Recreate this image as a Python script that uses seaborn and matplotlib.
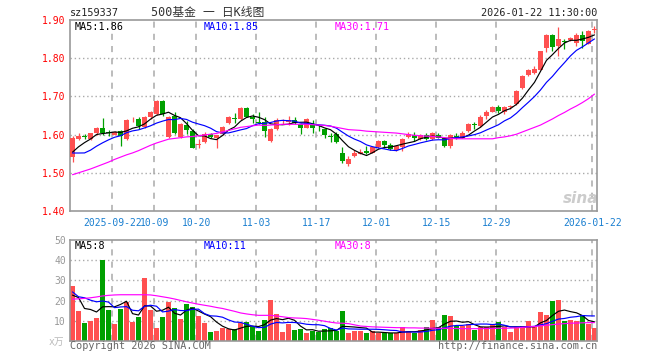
import numpy as np
import pandas as pd
import seaborn as sns
import matplotlib
matplotlib.use("Agg")
import matplotlib.pyplot as plt

sns.set_theme(style="white")
plt.rcParams['font.family'] = ['DejaVu Sans Mono', 'Noto Sans CJK SC']

# ---- data (sz159337 daily K) ----
opens = [1.542, 1.589, 1.596, 1.589, 1.603, 1.617, 1.608, 1.600, 1.610, 1.588,
         1.637, 1.640, 1.621, 1.645, 1.655, 1.689, 1.593, 1.649, 1.593, 1.625,
         1.610, 1.574, 1.580, 1.601, 1.591, 1.601, 1.630, 1.642, 1.640, 1.669,
         1.647, 1.632, 1.633, 1.583, 1.614, 1.635, 1.632, 1.638, 1.629, 1.618,
         1.627, 1.617, 1.615, 1.596, 1.601, 1.553, 1.524, 1.544, 1.550, 1.556,
         1.553, 1.568, 1.583, 1.572, 1.560, 1.568, 1.594, 1.598, 1.588, 1.598,
         1.588, 1.598, 1.590, 1.570, 1.594, 1.592, 1.610, 1.625, 1.623, 1.649,
         1.660, 1.672, 1.658, 1.673, 1.680, 1.722, 1.756, 1.761, 1.770, 1.826,
         1.860, 1.832, 1.844, 1.847, 1.840, 1.860, 1.838, 1.873]
closes = [1.590, 1.596, 1.594, 1.603, 1.618, 1.603, 1.604, 1.607, 1.596, 1.638,
          1.638, 1.623, 1.645, 1.658, 1.689, 1.654, 1.647, 1.603, 1.628, 1.612,
          1.566, 1.576, 1.601, 1.593, 1.598, 1.620, 1.647, 1.641, 1.669, 1.647,
          1.640, 1.630, 1.610, 1.614, 1.638, 1.637, 1.638, 1.630, 1.618, 1.640,
          1.616, 1.616, 1.598, 1.594, 1.581, 1.531, 1.537, 1.551, 1.555, 1.552,
          1.568, 1.583, 1.573, 1.561, 1.570, 1.588, 1.601, 1.590, 1.598, 1.588,
          1.604, 1.592, 1.570, 1.598, 1.593, 1.605, 1.627, 1.624, 1.647, 1.660,
          1.672, 1.662, 1.672, 1.675, 1.715, 1.754, 1.768, 1.772, 1.818, 1.860,
          1.829, 1.849, 1.843, 1.853, 1.860, 1.846, 1.871, 1.875]
highs = [1.596, 1.603, 1.601, 1.605, 1.620, 1.643, 1.612, 1.610, 1.613, 1.640,
         1.645, 1.645, 1.649, 1.661, 1.691, 1.690, 1.649, 1.658, 1.631, 1.635,
         1.614, 1.588, 1.606, 1.603, 1.600, 1.622, 1.650, 1.656, 1.672, 1.671,
         1.653, 1.658, 1.645, 1.618, 1.643, 1.642, 1.649, 1.647, 1.631, 1.644,
         1.639, 1.625, 1.618, 1.605, 1.607, 1.568, 1.544, 1.559, 1.563, 1.570,
         1.571, 1.587, 1.586, 1.577, 1.573, 1.590, 1.607, 1.607, 1.601, 1.603,
         1.607, 1.603, 1.591, 1.601, 1.604, 1.610, 1.630, 1.633, 1.651, 1.665,
         1.675, 1.677, 1.674, 1.677, 1.718, 1.756, 1.772, 1.779, 1.820, 1.864,
         1.864, 1.882, 1.851, 1.856, 1.867, 1.870, 1.873, 1.884]
lows = [1.528, 1.585, 1.588, 1.587, 1.600, 1.600, 1.596, 1.598, 1.570, 1.585,
        1.632, 1.615, 1.618, 1.642, 1.652, 1.650, 1.590, 1.601, 1.591, 1.601,
        1.565, 1.566, 1.578, 1.590, 1.566, 1.599, 1.628, 1.631, 1.638, 1.645,
        1.631, 1.627, 1.594, 1.581, 1.612, 1.627, 1.625, 1.628, 1.601, 1.616,
        1.604, 1.609, 1.592, 1.581, 1.578, 1.525, 1.518, 1.542, 1.548, 1.548,
        1.551, 1.566, 1.566, 1.559, 1.557, 1.557, 1.592, 1.583, 1.586, 1.586,
        1.586, 1.590, 1.568, 1.566, 1.588, 1.590, 1.608, 1.614, 1.621, 1.642,
        1.658, 1.656, 1.654, 1.667, 1.678, 1.720, 1.753, 1.759, 1.768, 1.816,
        1.820, 1.807, 1.823, 1.845, 1.833, 1.826, 1.836, 1.866]
# volume, 万手
volumes = [27.2, 14.7, 8.8, 9.8, 11.3, 40.0, 15.2, 8.3, 15.7, 19.2,
           9.3, 11.8, 31.1, 15.2, 6.3, 11.8, 19.2, 16.2, 10.8, 18.2,
           16.7, 12.3, 8.8, 4.3, 4.8, 6.5, 5.8, 5.8, 8.9, 9.3,
           7.0, 4.8, 10.3, 20.2, 13.2, 4.3, 8.3, 5.3, 5.8, 3.8,
           4.8, 4.5, 5.8, 6.3, 5.0, 14.7, 3.8, 4.8, 4.8, 3.8,
           4.8, 3.8, 3.8, 3.8, 3.8, 6.8, 4.8, 3.8, 5.3, 6.8,
           10.3, 6.8, 12.7, 12.3, 7.3, 7.3, 8.3, 5.3, 6.8, 6.8,
           7.8, 9.3, 6.8, 4.3, 6.8, 7.3, 9.8, 6.8, 14.2, 12.7,
           19.7, 20.2, 9.8, 10.3, 9.8, 12.7, 8.3, 6.3]

# closes / volumes just before the window (estimated from where the MA lines start)
pre_closes = [1.596, 1.592, 1.530, 1.515, 1.515, 1.526, 1.539, 1.556, 1.559]
pre_volumes = [38.7, 13.8, 21.8, 19.3, 35.9, 20.7, 35.8, 12.3, 17.5]

# MA30 lines
ma30_price = [1.495, 1.500, 1.505, 1.510, 1.516, 1.522, 1.528, 1.535, 1.541, 1.547,
              1.552, 1.558, 1.565, 1.572, 1.578, 1.583, 1.588, 1.590, 1.592, 1.594,
              1.595, 1.597, 1.599, 1.601, 1.603, 1.607, 1.611, 1.615, 1.619, 1.621,
              1.623, 1.625, 1.624, 1.625, 1.626, 1.627, 1.627, 1.627, 1.627, 1.627,
              1.626, 1.625, 1.624, 1.622, 1.619, 1.616, 1.613, 1.612, 1.611, 1.609,
              1.608, 1.607, 1.606, 1.605, 1.604, 1.602, 1.600, 1.598, 1.597, 1.596,
              1.595, 1.594, 1.592, 1.590, 1.589, 1.589, 1.589, 1.589, 1.589, 1.589,
              1.589, 1.592, 1.594, 1.597, 1.601, 1.607, 1.613, 1.619, 1.625, 1.633,
              1.641, 1.650, 1.658, 1.667, 1.675, 1.684, 1.694, 1.706]
ma30_volume = [20.7, 20.9, 21.1, 21.4, 21.8, 22.3, 22.6, 22.8, 22.9, 22.9,
               22.9, 22.9, 22.9, 22.8, 22.4, 21.9, 21.4, 20.8, 20.1, 19.4,
               18.8, 18.2, 17.7, 17.2, 16.6, 16.1, 15.4, 14.7, 13.9, 13.4,
               13.0, 12.7, 12.7, 12.7, 12.4, 12.0, 11.6, 11.4, 11.3, 11.1,
               10.7, 10.3, 9.8, 9.3, 8.9, 8.8, 8.6, 8.0, 7.4, 7.2,
               7.0, 6.9, 6.8, 6.7, 6.6, 6.6, 6.5, 6.5, 6.4, 6.4,
               6.3, 6.3, 6.3, 6.2, 6.2, 6.1, 6.1, 6.1, 6.1, 6.2,
               6.2, 6.3, 6.3, 6.4, 6.5, 6.7, 7.0, 7.2, 7.5, 7.8,
               8.1, 8.4, 8.6, 8.8, 8.9, 9.0, 9.1, 9.1]

tick_index = [7, 14, 21, 31, 41, 51, 61, 71, 87]
tick_labels = ['2025-09-22', '10-09', '10-20', '11-03', '11-17',
               '12-01', '12-15', '12-29', '2026-01-22']

price_ma_text = ['MA5:1.86', 'MA10:1.85', 'MA30:1.71']
volume_ma_text = ['MA5:8', 'MA10:11', 'MA30:8']

RED = '#ff5050'
GREEN = '#00a000'
GRID = '#aaaaaa'
FRAME = '#999999'
MA_COLORS = ['#000000', '#0000ff', '#ff00ff']

df = pd.DataFrame({'open': opens, 'close': closes, 'high': highs,
                   'low': lows, 'volume': volumes})
df['x'] = np.arange(len(df))
up = df['close'] >= df['open']
df['color'] = np.where(up, RED, GREEN)

c_all = pd.Series(pre_closes + closes)
v_all = pd.Series(pre_volumes + volumes)
k = len(pre_closes)
df['ma5'] = c_all.rolling(5).mean().to_numpy()[k:]
df['ma10'] = c_all.rolling(10).mean().to_numpy()[k:]
df['ma30'] = ma30_price
df['vma5'] = v_all.rolling(5).mean().to_numpy()[k:]
df['vma10'] = v_all.rolling(10).mean().to_numpy()[k:]
df['vma30'] = ma30_volume

W, H = 660, 360
fig = plt.figure(figsize=(W / 100, H / 100), dpi=100)
fig.patch.set_facecolor('white')


def box(left, top, right, bottom):
    return [left / W, 1 - bottom / H, (right - left) / W, (bottom - top) / H]


ax = fig.add_axes(box(70, 20, 597, 211))
axv = fig.add_axes(box(70, 240, 597, 341))

xlim = (-0.42, 87.42)
vline_x = [i - 0.35 for i in tick_index]

for a in (ax, axv):
    a.set_facecolor('white')
    a.set_xlim(*xlim)
    for s in a.spines.values():
        s.set_color(FRAME)
        s.set_linewidth(1.2)
    for vx in vline_x:
        a.axvline(vx, color=GRID, lw=1.1, ls=(0, (4, 4)), zorder=0)
    a.tick_params(length=0, labelsize=7, pad=3)

# ---- price panel ----
ax.set_ylim(1.40, 1.90)
for yv in [1.5, 1.6, 1.7, 1.8]:
    ax.axhline(yv, color=GRID, lw=1, ls=(0, (1, 2)), zorder=0)

ax.vlines(df['x'], df['low'], df['high'], colors=df['color'], lw=0.9, zorder=2)
body = (df['close'] - df['open']).abs().clip(lower=0.0025)
ax.bar(df['x'], body, bottom=df[['open', 'close']].min(axis=1),
       width=0.82, color=df['color'], linewidth=0, zorder=3)

for col, c in zip(['ma5', 'ma10', 'ma30'], MA_COLORS):
    sns.lineplot(data=df, x='x', y=col, ax=ax, color=c, lw=0.85, zorder=4)

ax.set_yticks([1.4, 1.5, 1.6, 1.7, 1.8, 1.9])
ax.set_yticklabels([f'{v:.2f}' for v in [1.4, 1.5, 1.6, 1.7, 1.8, 1.9]], color='#ff0000')
ax.set_xticks(vline_x)
ax.set_xticklabels(tick_labels, color='#1a7fd0')
ax.tick_params(axis='x', pad=5)
ax.set_xlabel('')
ax.set_ylabel('')

for txt, xpx, c in zip(price_ma_text, [75, 204, 335], MA_COLORS):
    ax.text(xpx / W, 1 - 26.5 / H, txt, transform=fig.transFigure, color=c,
            fontsize=7.3, va='center', ha='left')

# watermark
ax.text(581 / W, 1 - 198 / H, 'sina', transform=fig.transFigure, color='#cccccc',
        fontsize=11, fontstyle='italic', fontweight='bold', ha='center',
        va='center', family='DejaVu Sans', zorder=1)

# ---- volume panel ----
axv.set_ylim(0, 50)
for yv in [10, 20, 30, 40]:
    axv.axhline(yv, color=GRID, lw=1, ls=(0, (1, 2)), zorder=0)
axv.bar(df['x'], df['volume'], width=0.82, color=df['color'], linewidth=0, zorder=2)
for col, c in zip(['vma5', 'vma10', 'vma30'], MA_COLORS):
    sns.lineplot(data=df, x='x', y=col, ax=axv, color=c, lw=0.85, zorder=4)
axv.set_yticks([10, 20, 30, 40, 50])
axv.set_yticklabels(['10', '20', '30', '40', '50'], color=FRAME)
axv.set_xticks([])
axv.set_xlabel('')
axv.set_ylabel('')

for txt, xpx, c in zip(volume_ma_text, [75, 204, 335], MA_COLORS):
    axv.text(xpx / W, 1 - 246 / H, txt, transform=fig.transFigure, color=c,
             fontsize=7.3, va='center', ha='left')

# ---- header / footer texts ----
fig.text(70 / W, 1 - 12.5 / H, 'sz159337', color='#222222', fontsize=7.3,
         va='center', ha='left')
fig.text(208 / W, 1 - 12.5 / H, '500基金 一 日K线图', color='#333333',
         fontsize=8.5, va='center', ha='center')
fig.text(597 / W, 1 - 12.5 / H, '2026-01-22 11:30:00', color='#222222',
         fontsize=7.3, va='center', ha='right')
fig.text(64 / W, 1 - 342 / H, 'x万', color='#bbbbbb', fontsize=7,
         va='center', ha='right')
fig.text(70 / W, 1 - 346 / H, 'Copyright 2026 SINA.COM', color='#666666',
         fontsize=7.3, va='center', ha='left')
fig.text(597 / W, 1 - 346 / H, 'http://finance.sina.com.cn', color='#666666',
         fontsize=7.3, va='center', ha='right')

fig.savefig('out.png', dpi=100, facecolor='white')
